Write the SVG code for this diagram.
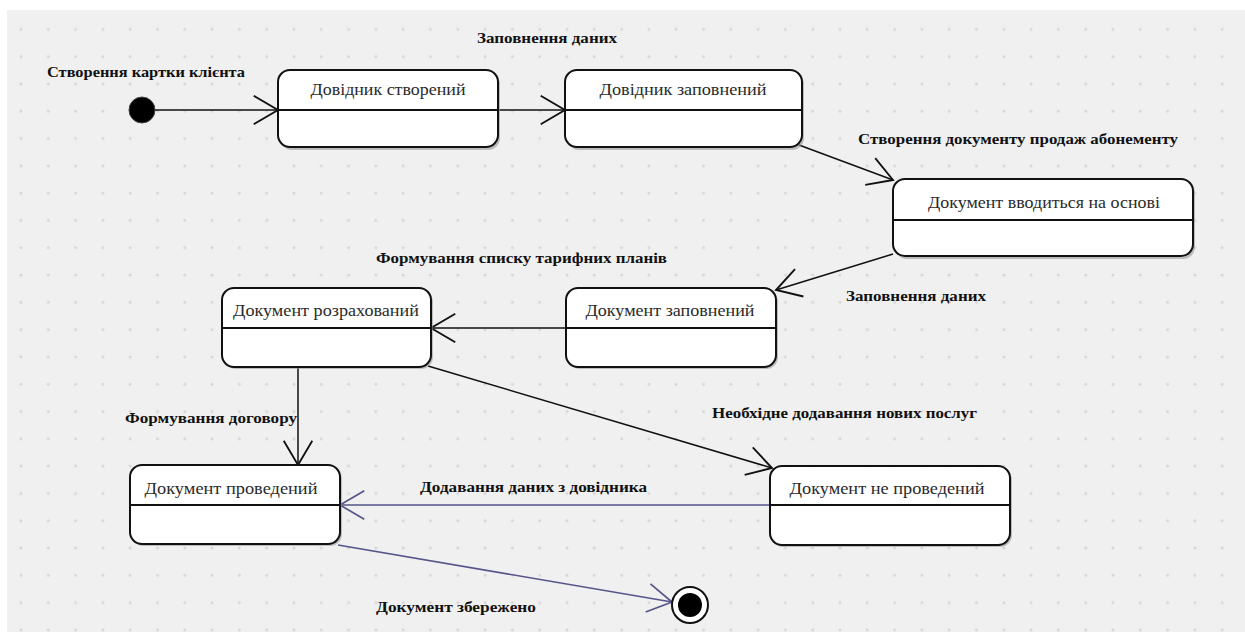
<svg xmlns="http://www.w3.org/2000/svg" width="1245" height="632" viewBox="0 0 1245 632">
  <defs>
    <pattern id="grid" x="21" y="2" width="27.3" height="27.3" patternUnits="userSpaceOnUse">
      <circle cx="0" cy="0" r="1.5" fill="#d6d6d6"/>
      <circle cx="27.3" cy="0" r="1.5" fill="#d6d6d6"/>
      <circle cx="0" cy="27.3" r="1.5" fill="#d6d6d6"/>
      <circle cx="27.3" cy="27.3" r="1.5" fill="#d6d6d6"/>
    </pattern>
    <marker id="arr" markerUnits="userSpaceOnUse" markerWidth="40" markerHeight="40" viewBox="-24 -14 28 28" refX="0" refY="0" orient="auto">
      <path d="M -17 -10 L 0 0 L -17 10" fill="none" stroke="#111" stroke-width="1.3"/>
    </marker>
    <marker id="arrP" markerUnits="userSpaceOnUse" markerWidth="40" markerHeight="40" viewBox="-24 -14 28 28" refX="0" refY="0" orient="auto">
      <path d="M -17 -10 L 0 0 L -17 10" fill="none" stroke="#55558a" stroke-width="1.2"/>
    </marker>
  </defs>
  <style>
    .state rect { fill: #ffffff; stroke: #111; stroke-width: 2; }
    .state line { stroke: #111; stroke-width: 2; }
    .state .shadow { fill: #9a9a9a; stroke: none; opacity: 0.6; }
    .name { font-family: "Liberation Serif", "Times New Roman", serif; font-size: 17px; fill: #2a2a2a; text-anchor: middle; }
    .lbl { font-family: "Liberation Serif", "Times New Roman", serif; font-size: 15px; font-weight: bold; fill: #111; }
    .edge { fill: none; stroke: #111; stroke-width: 1.5; marker-end: url(#arr); }
    .edgeP { fill: none; stroke: #55558a; stroke-width: 1.6; marker-end: url(#arrP); }
  </style>

  <!-- canvas -->
  <rect x="0" y="0" width="1245" height="632" fill="#ffffff"/>
  <rect x="7" y="10" width="1238" height="622" fill="#f0f0f0"/>
  <rect x="7" y="10" width="1238" height="622" fill="url(#grid)"/>

  <!-- transitions -->
  <g id="connectors">
    <line class="edge" x1="155" y1="110" x2="278" y2="110"/>
    <line class="edge" x1="498" y1="110" x2="565" y2="110"/>
    <line class="edge" x1="799" y1="145" x2="893" y2="180"/>
    <line class="edge" x1="893" y1="254" x2="776" y2="290"/>
    <line class="edge" x1="566" y1="328" x2="431" y2="328"/>
    <line class="edge" x1="298" y1="368" x2="298" y2="465"/>
    <line class="edge" x1="428" y1="366" x2="772" y2="468"/>
    <line class="edgeP" x1="770" y1="505" x2="340" y2="505"/>
    <line class="edgeP" x1="338" y1="545" x2="672" y2="602"/>
  </g>

  <!-- transition labels -->
  <g id="labels">
    <text class="lbl" x="477" y="43" textLength="140" lengthAdjust="spacingAndGlyphs">Заповнення даних</text>
    <text class="lbl" x="47" y="77" textLength="198" lengthAdjust="spacingAndGlyphs">Створення картки клієнта</text>
    <text class="lbl" x="858" y="144" textLength="320" lengthAdjust="spacingAndGlyphs">Створення документу продаж абонементу</text>
    <text class="lbl" x="376" y="263" textLength="291" lengthAdjust="spacingAndGlyphs">Формування списку тарифних планів</text>
    <text class="lbl" x="846" y="301" textLength="140" lengthAdjust="spacingAndGlyphs">Заповнення даних</text>
    <text class="lbl" x="125" y="423" textLength="172" lengthAdjust="spacingAndGlyphs">Формування договору</text>
    <text class="lbl" x="712" y="418" textLength="265" lengthAdjust="spacingAndGlyphs">Необхідне додавання нових послуг</text>
    <text class="lbl" x="420" y="492" textLength="227" lengthAdjust="spacingAndGlyphs">Додавання даних з довідника</text>
    <text class="lbl" x="376" y="612" textLength="160" lengthAdjust="spacingAndGlyphs">Документ збережено</text>
  </g>

  <!-- initial pseudo-state -->
  <g id="start">
    <circle cx="142" cy="110" r="13" fill="#000" stroke="#444" stroke-width="1"/>
  </g>

  <!-- states -->
  <g id="s-dovidnyk-stvorenyi" class="state">
    <rect class="shadow" x="280" y="72" width="220" height="78" rx="12"/>
    <rect x="278" y="70" width="220" height="77" rx="12"/>
    <line x1="278" y1="110" x2="498" y2="110"/>
    <text class="name" x="388" y="95" textLength="155" lengthAdjust="spacingAndGlyphs">Довідник створений</text>
  </g>

  <g id="s-dovidnyk-zapovnenyi" class="state">
    <rect class="shadow" x="567" y="72" width="237" height="78" rx="12"/>
    <rect x="565" y="70" width="237" height="77" rx="12"/>
    <line x1="565" y1="110" x2="802" y2="110"/>
    <text class="name" x="683" y="95" textLength="167" lengthAdjust="spacingAndGlyphs">Довідник заповнений</text>
  </g>

  <g id="s-dokument-vvodytsia" class="state">
    <rect class="shadow" x="895" y="181" width="300" height="78" rx="12"/>
    <rect x="893" y="179" width="300" height="77" rx="12"/>
    <line x1="893" y1="220" x2="1193" y2="220"/>
    <text class="name" x="1044" y="208" textLength="232" lengthAdjust="spacingAndGlyphs">Документ вводиться на основі</text>
  </g>

  <g id="s-dokument-zapovnenyi" class="state">
    <rect class="shadow" x="568" y="290" width="210" height="79" rx="12"/>
    <rect x="566" y="288" width="210" height="79" rx="12"/>
    <line x1="566" y1="328" x2="776" y2="328"/>
    <text class="name" x="670" y="316" textLength="169" lengthAdjust="spacingAndGlyphs">Документ заповнений</text>
  </g>

  <g id="s-dokument-rozrakhovanyi" class="state">
    <rect class="shadow" x="224" y="290" width="209" height="79" rx="12"/>
    <rect x="222" y="288" width="209" height="79" rx="12"/>
    <line x1="222" y1="328" x2="431" y2="328"/>
    <text class="name" x="326" y="316" textLength="186" lengthAdjust="spacingAndGlyphs">Документ розрахований</text>
  </g>

  <g id="s-dokument-provedenyi" class="state">
    <rect class="shadow" x="132" y="467" width="210" height="79" rx="12"/>
    <rect x="130" y="465" width="210" height="79" rx="12"/>
    <line x1="130" y1="505" x2="340" y2="505"/>
    <text class="name" x="231" y="494" textLength="173" lengthAdjust="spacingAndGlyphs">Документ проведений</text>
  </g>

  <g id="s-dokument-ne-provedenyi" class="state">
    <rect class="shadow" x="772" y="468" width="240" height="79" rx="12"/>
    <rect x="770" y="466" width="240" height="79" rx="12"/>
    <line x1="770" y1="505" x2="1010" y2="505"/>
    <text class="name" x="887" y="494" textLength="195" lengthAdjust="spacingAndGlyphs">Документ не проведений</text>
  </g>

  <!-- final pseudo-state -->
  <g id="final">
    <circle cx="690" cy="605" r="18" fill="#fff" stroke="#111" stroke-width="2"/>
    <circle cx="690" cy="605" r="12" fill="#000"/>
  </g>
</svg>
